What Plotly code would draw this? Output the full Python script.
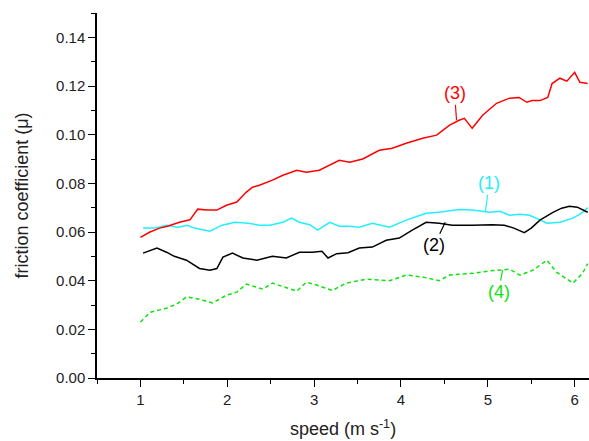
import plotly.graph_objects as go

# (3) red
x3 = [1.00, 1.11, 1.22, 1.31, 1.45, 1.57, 1.66, 1.77, 1.88, 1.99, 2.11, 2.22, 2.29, 2.37, 2.52,
      2.64, 2.80, 2.91, 3.06, 3.18, 3.29, 3.41, 3.56, 3.75, 3.90, 4.06, 4.25, 4.41, 4.56, 4.67,
      4.73, 4.82, 4.94, 5.10, 5.25, 5.36, 5.45, 5.51, 5.60, 5.69, 5.74, 5.83, 5.91, 6.00, 6.06, 6.15]
y3 = [0.0578, 0.0600, 0.0616, 0.0624, 0.0640, 0.0650, 0.0694, 0.0690, 0.0690, 0.0710, 0.0723,
      0.0764, 0.0784, 0.0792, 0.0813, 0.0833, 0.0854, 0.0846, 0.0854, 0.0874, 0.0895, 0.0887,
      0.0900, 0.0936, 0.0944, 0.0965, 0.0985, 0.0998, 0.1039, 0.1059, 0.1067, 0.1026, 0.1080,
      0.1129, 0.1150, 0.1153, 0.1133, 0.1140, 0.1140, 0.1153, 0.1210, 0.1232, 0.1220, 0.1256,
      0.1215, 0.1210]

# (1) cyan
x1 = [1.03, 1.16, 1.30, 1.43, 1.54, 1.62, 1.80, 1.94, 2.09, 2.24, 2.37, 2.49, 2.64, 2.74, 2.83,
      2.95, 3.04, 3.18, 3.29, 3.41, 3.52, 3.67, 3.87, 4.06, 4.19, 4.29, 4.44, 4.56, 4.67, 4.82,
      5.02, 5.14, 5.25, 5.37, 5.48, 5.60, 5.68, 5.83, 5.98, 6.08, 6.15]
y1 = [0.0616, 0.0616, 0.0628, 0.0620, 0.0628, 0.0616, 0.0603, 0.0628, 0.0640, 0.0636, 0.0628,
      0.0628, 0.0640, 0.0657, 0.0640, 0.0630, 0.0608, 0.0640, 0.0624, 0.0624, 0.0620, 0.0636,
      0.0620, 0.0649, 0.0665, 0.0677, 0.0681, 0.0686, 0.0692, 0.0690, 0.0681, 0.0685, 0.0669,
      0.0673, 0.0669, 0.0650, 0.0636, 0.0640, 0.0657, 0.0677, 0.0700]

# (2) black
x2 = [1.03, 1.19, 1.30, 1.39, 1.53, 1.68, 1.80, 1.88, 1.95, 2.06, 2.18, 2.34, 2.52, 2.68, 2.83,
      2.98, 3.09, 3.16, 3.26, 3.39, 3.52, 3.67, 3.83, 3.98, 4.13, 4.29, 4.44, 4.59, 4.82, 5.05,
      5.19, 5.30, 5.42, 5.50, 5.60, 5.75, 5.85, 5.94, 6.03, 6.15]
y2 = [0.0513, 0.0534, 0.0517, 0.0500, 0.0484, 0.0450, 0.0443, 0.0450, 0.0497, 0.0513, 0.0493,
      0.0484, 0.0500, 0.0493, 0.0517, 0.0517, 0.0521, 0.0493, 0.0511, 0.0515, 0.0534, 0.0538,
      0.0566, 0.0575, 0.0608, 0.0640, 0.0636, 0.0628, 0.0628, 0.0630, 0.0628, 0.0616, 0.0597,
      0.0616, 0.0649, 0.0681, 0.0698, 0.0706, 0.0702, 0.0681]

# (4) green dashed
x4 = [1.00, 1.11, 1.22, 1.30, 1.42, 1.53, 1.68, 1.83, 1.99, 2.11, 2.22, 2.41, 2.52, 2.68, 2.80,
      2.91, 3.03, 3.21, 3.37, 3.60, 3.87, 4.06, 4.25, 4.44, 4.56, 4.82, 5.02, 5.25, 5.37, 5.52,
      5.68, 5.79, 5.98, 6.09, 6.15]
y4 = [0.0230, 0.0270, 0.0280, 0.0287, 0.0304, 0.0333, 0.0324, 0.0308, 0.0340, 0.0353, 0.0386,
      0.0365, 0.0390, 0.0370, 0.0357, 0.0394, 0.0382, 0.0360, 0.0390, 0.0406, 0.0400, 0.0423,
      0.0415, 0.0400, 0.0423, 0.0430, 0.0440, 0.0447, 0.0423, 0.0443, 0.0484, 0.0435, 0.0390,
      0.0430, 0.0470]

labels = ["(1)", "(2)", "(3)", "(4)"]
colors = ["#22EEFF", "#000000", "#FF0000", "#11E011"]

FONT = "Liberation Sans, Arial, sans-serif"

fig = go.Figure()
fig.add_trace(go.Scatter(x=x1, y=y1, mode="lines", line=dict(color=colors[0], width=1.5), showlegend=False))
fig.add_trace(go.Scatter(x=x2, y=y2, mode="lines", line=dict(color=colors[1], width=1.5), showlegend=False))
fig.add_trace(go.Scatter(x=x3, y=y3, mode="lines", line=dict(color=colors[2], width=1.5), showlegend=False))
fig.add_trace(go.Scatter(x=x4, y=y4, mode="lines", line=dict(color=colors[3], width=1.5, dash="4px,3px"), showlegend=False))

ann = [
    (4.97, 0.0681, 4, -29, labels[0], colors[0]),
    (4.51, 0.0640, -11, 23, labels[1], colors[1]),
    (4.64, 0.1059, -2, -27, labels[2], colors[2]),
    (5.17, 0.0443, -4, 22, labels[3], colors[3]),
]
for xa, ya, axo, ayo, t, c in ann:
    fig.add_annotation(x=xa, y=ya, ax=axo, ay=ayo, text=t, showarrow=True, arrowhead=0,
                       arrowwidth=1.2, arrowcolor=c, font=dict(size=18, color=c, family=FONT),
                       standoff=0, startstandoff=0)

fig.update_layout(
    width=589, height=441,
    margin=dict(l=97, r=0, t=13, b=63),
    paper_bgcolor="white", plot_bgcolor="white",
    font=dict(family=FONT, color="#222222"),
    xaxis=dict(range=[0.5, 6.165], tickvals=[1, 2, 3, 4, 5, 6], ticks="outside", ticklen=7,
               tickwidth=1.2, tickcolor="black", showline=True, linecolor="black", linewidth=1.5,
               showgrid=False, zeroline=False, tickfont=dict(size=15, color="#222222"),
               automargin=False,
               minor=dict(dtick=0.5, tick0=0.5, ticks="outside", ticklen=4, tickcolor="black", showgrid=False),
               title=dict(text="speed (m s<sup>-1</sup>)", font=dict(size=18, color="#222222"), standoff=16)),
    yaxis=dict(range=[0, 0.15], tickvals=[0, 0.02, 0.04, 0.06, 0.08, 0.10, 0.12, 0.14], tickformat=".2f",
               ticks="outside", ticklen=7, tickwidth=1.2, tickcolor="black", showline=True,
               linecolor="black", linewidth=1.5, showgrid=False, zeroline=False,
               tickfont=dict(size=15, color="#222222"), automargin=False,
               minor=dict(dtick=0.01, tick0=0, ticks="outside", ticklen=4, tickcolor="black", showgrid=False),
               title=dict(text="friction coefficient (μ)", font=dict(size=18, color="#222222"), standoff=23)),
)

fig.write_html("out.html", config={"displayModeBar": False},
               post_script="document.body.style.margin='0px';document.body.style.overflow='hidden';")
